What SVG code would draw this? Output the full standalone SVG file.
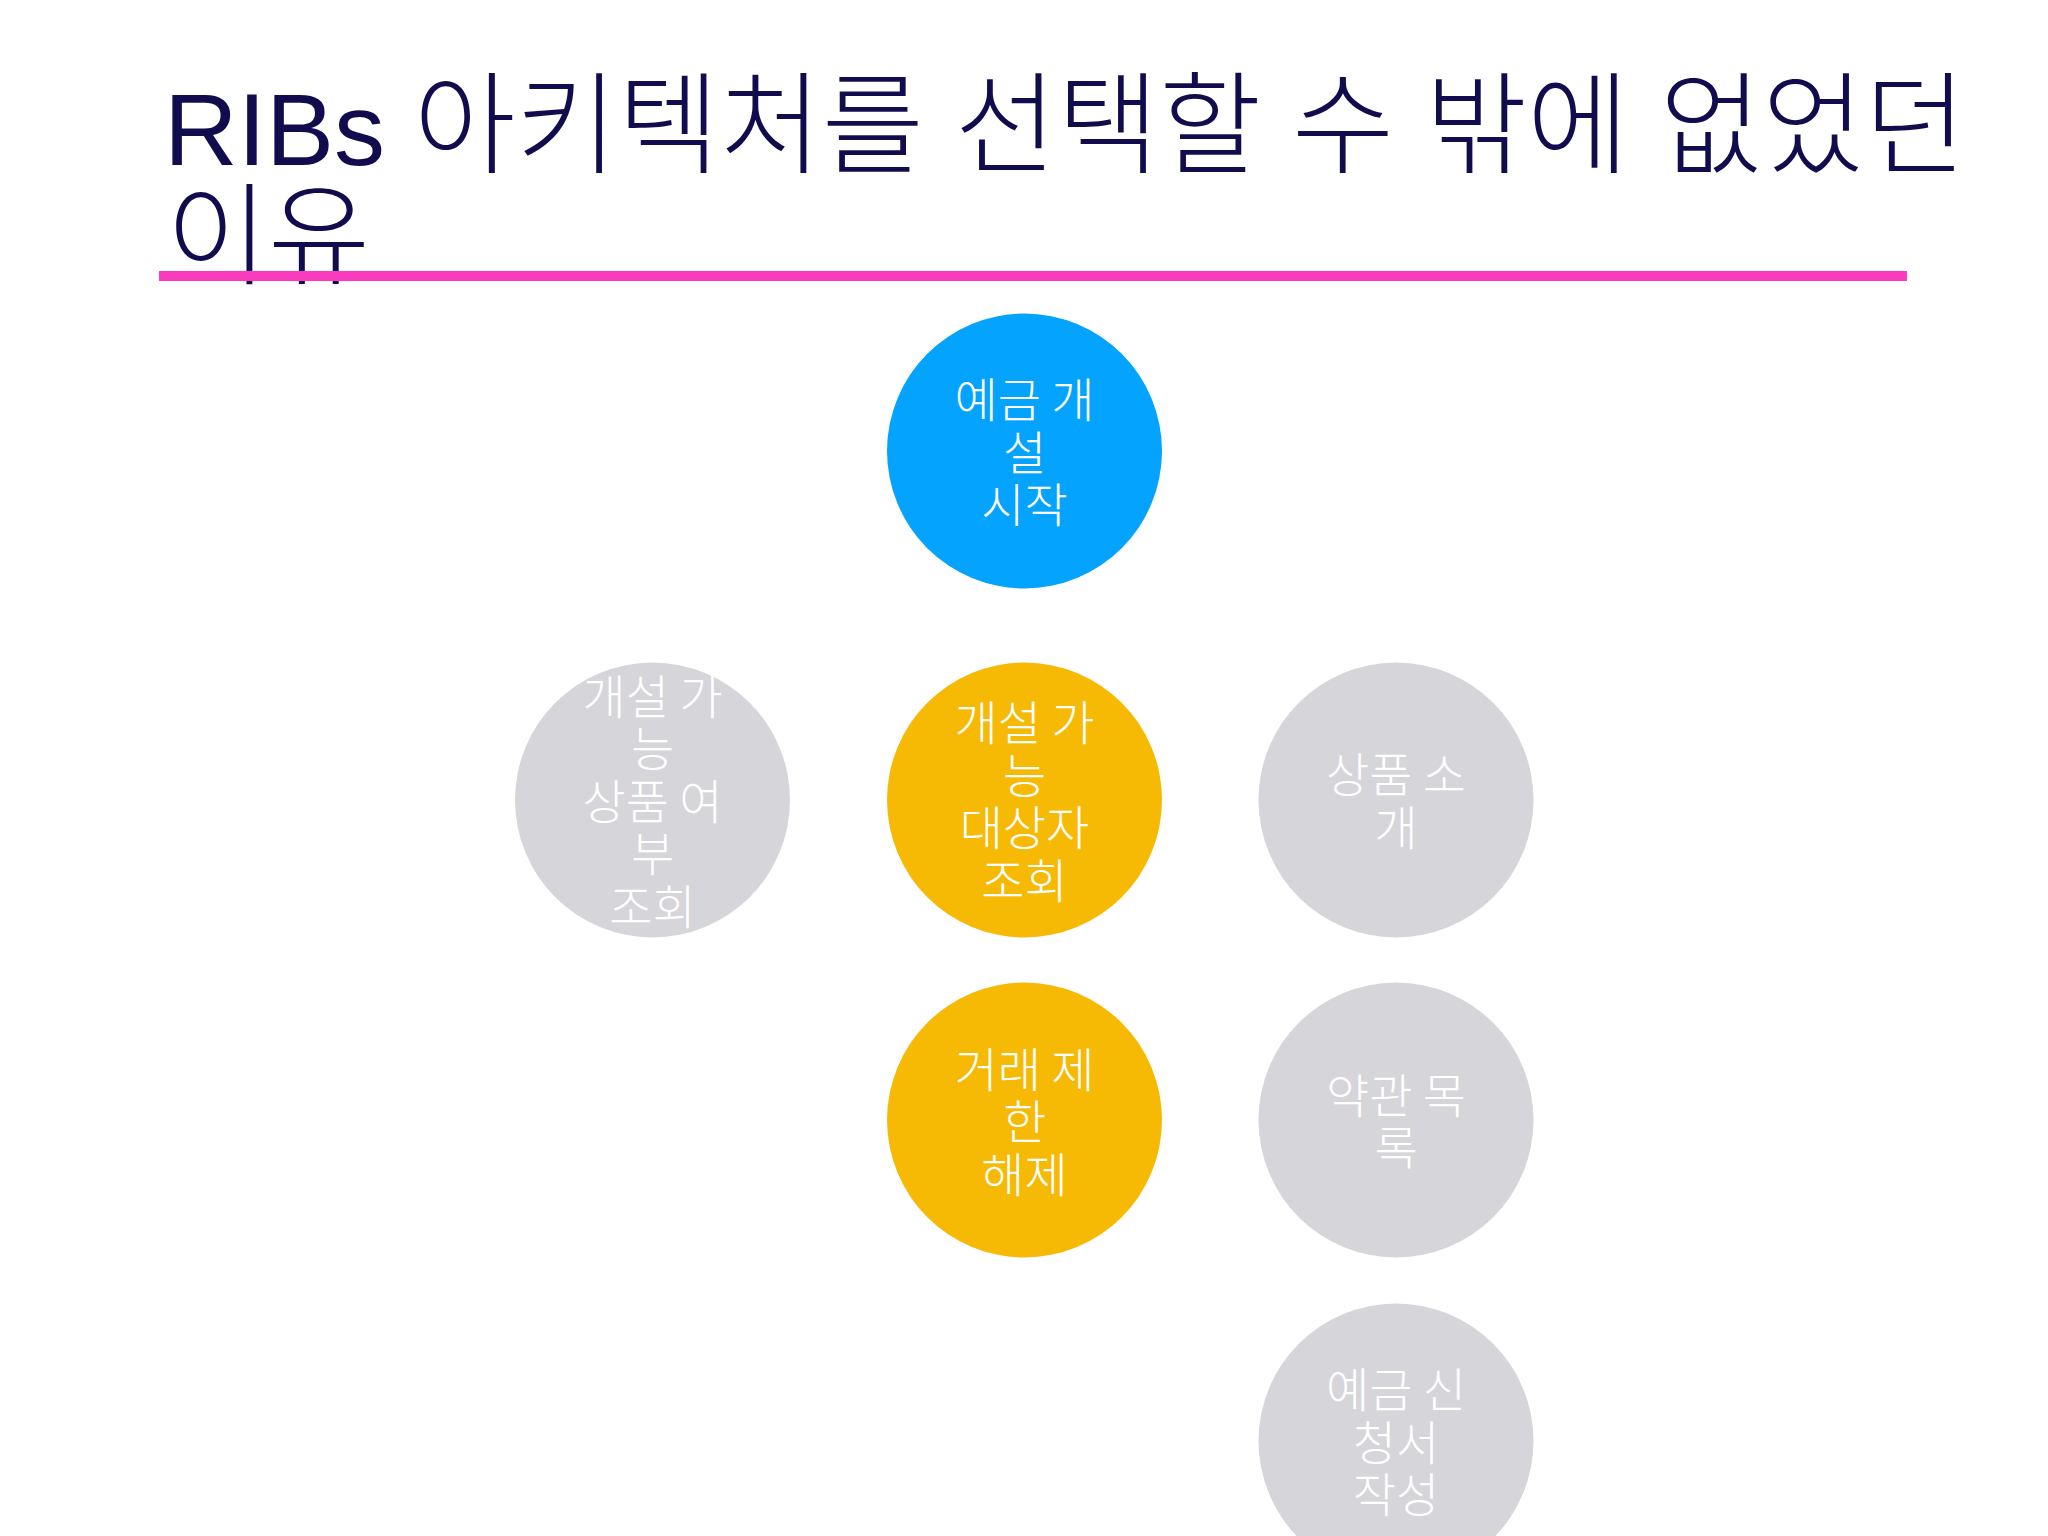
<svg xmlns="http://www.w3.org/2000/svg" width="2048" height="1536" viewBox="0 0 2048 1536">
<style>
.title{font-family:"Liberation Sans","Noto Sans CJK KR",sans-serif;font-size:102px;fill:#110C4D}
.ko{font-size:111px;font-weight:300}
.lbl{font-family:"Noto Sans CJK KR","Noto Sans",sans-serif;font-size:47px;font-weight:300;fill:#FFFFFF;text-anchor:middle}
.blue{fill:#03A3FE}
.yellow{fill:#F6B904}
.gray{fill:#D6D5DA}
</style>
<rect width="2048" height="1536" fill="#FFFFFF"/>
<g id="title">
<text class="title" x="164" y="165">RIBs <tspan class="ko">아키텍처를 선택할 수 밖에 없었던</tspan></text>
<text class="title ko" x="166" y="276">이유</text>
</g>
<rect id="underline" x="159" y="271" width="1748" height="10" fill="#FB3BBE"/>
<g id="connectors"/>
<g id="node-start">
<circle class="blue" cx="1024.5" cy="451" r="137.5"/>
<text class="lbl"><tspan x="1024.5" y="417">예금 개</tspan><tspan x="1024.5" y="470">설</tspan><tspan x="1024.5" y="522">시작</tspan></text>
</g>
<g id="node-product-check">
<circle class="gray" cx="652.5" cy="800" r="137.5"/>
<text class="lbl"><tspan x="652.5" y="714">개설 가</tspan><tspan x="652.5" y="766">능</tspan><tspan x="652.5" y="819">상품 여</tspan><tspan x="652.5" y="871">부</tspan><tspan x="652.5" y="924">조회</tspan></text>
</g>
<g id="node-target-check">
<circle class="yellow" cx="1024.5" cy="800" r="137.5"/>
<text class="lbl"><tspan x="1024.5" y="740">개설 가</tspan><tspan x="1024.5" y="793">능</tspan><tspan x="1024.5" y="845">대상자</tspan><tspan x="1024.5" y="898">조회</tspan></text>
</g>
<g id="node-product-intro">
<circle class="gray" cx="1396" cy="800" r="137.5"/>
<text class="lbl"><tspan x="1396" y="792">상품 소</tspan><tspan x="1396" y="845">개</tspan></text>
</g>
<g id="node-limit-release">
<circle class="yellow" cx="1024.5" cy="1120" r="137.5"/>
<text class="lbl"><tspan x="1024.5" y="1087">거래 제</tspan><tspan x="1024.5" y="1139">한</tspan><tspan x="1024.5" y="1192">해제</tspan></text>
</g>
<g id="node-terms">
<circle class="gray" cx="1396" cy="1120" r="137.5"/>
<text class="lbl"><tspan x="1396" y="1113">약관 목</tspan><tspan x="1396" y="1165">록</tspan></text>
</g>
<g id="node-application">
<circle class="gray" cx="1396" cy="1441" r="137.5"/>
<text class="lbl"><tspan x="1396" y="1407">예금 신</tspan><tspan x="1396" y="1460">청서</tspan><tspan x="1396" y="1512">작성</tspan></text>
</g>
</svg>
